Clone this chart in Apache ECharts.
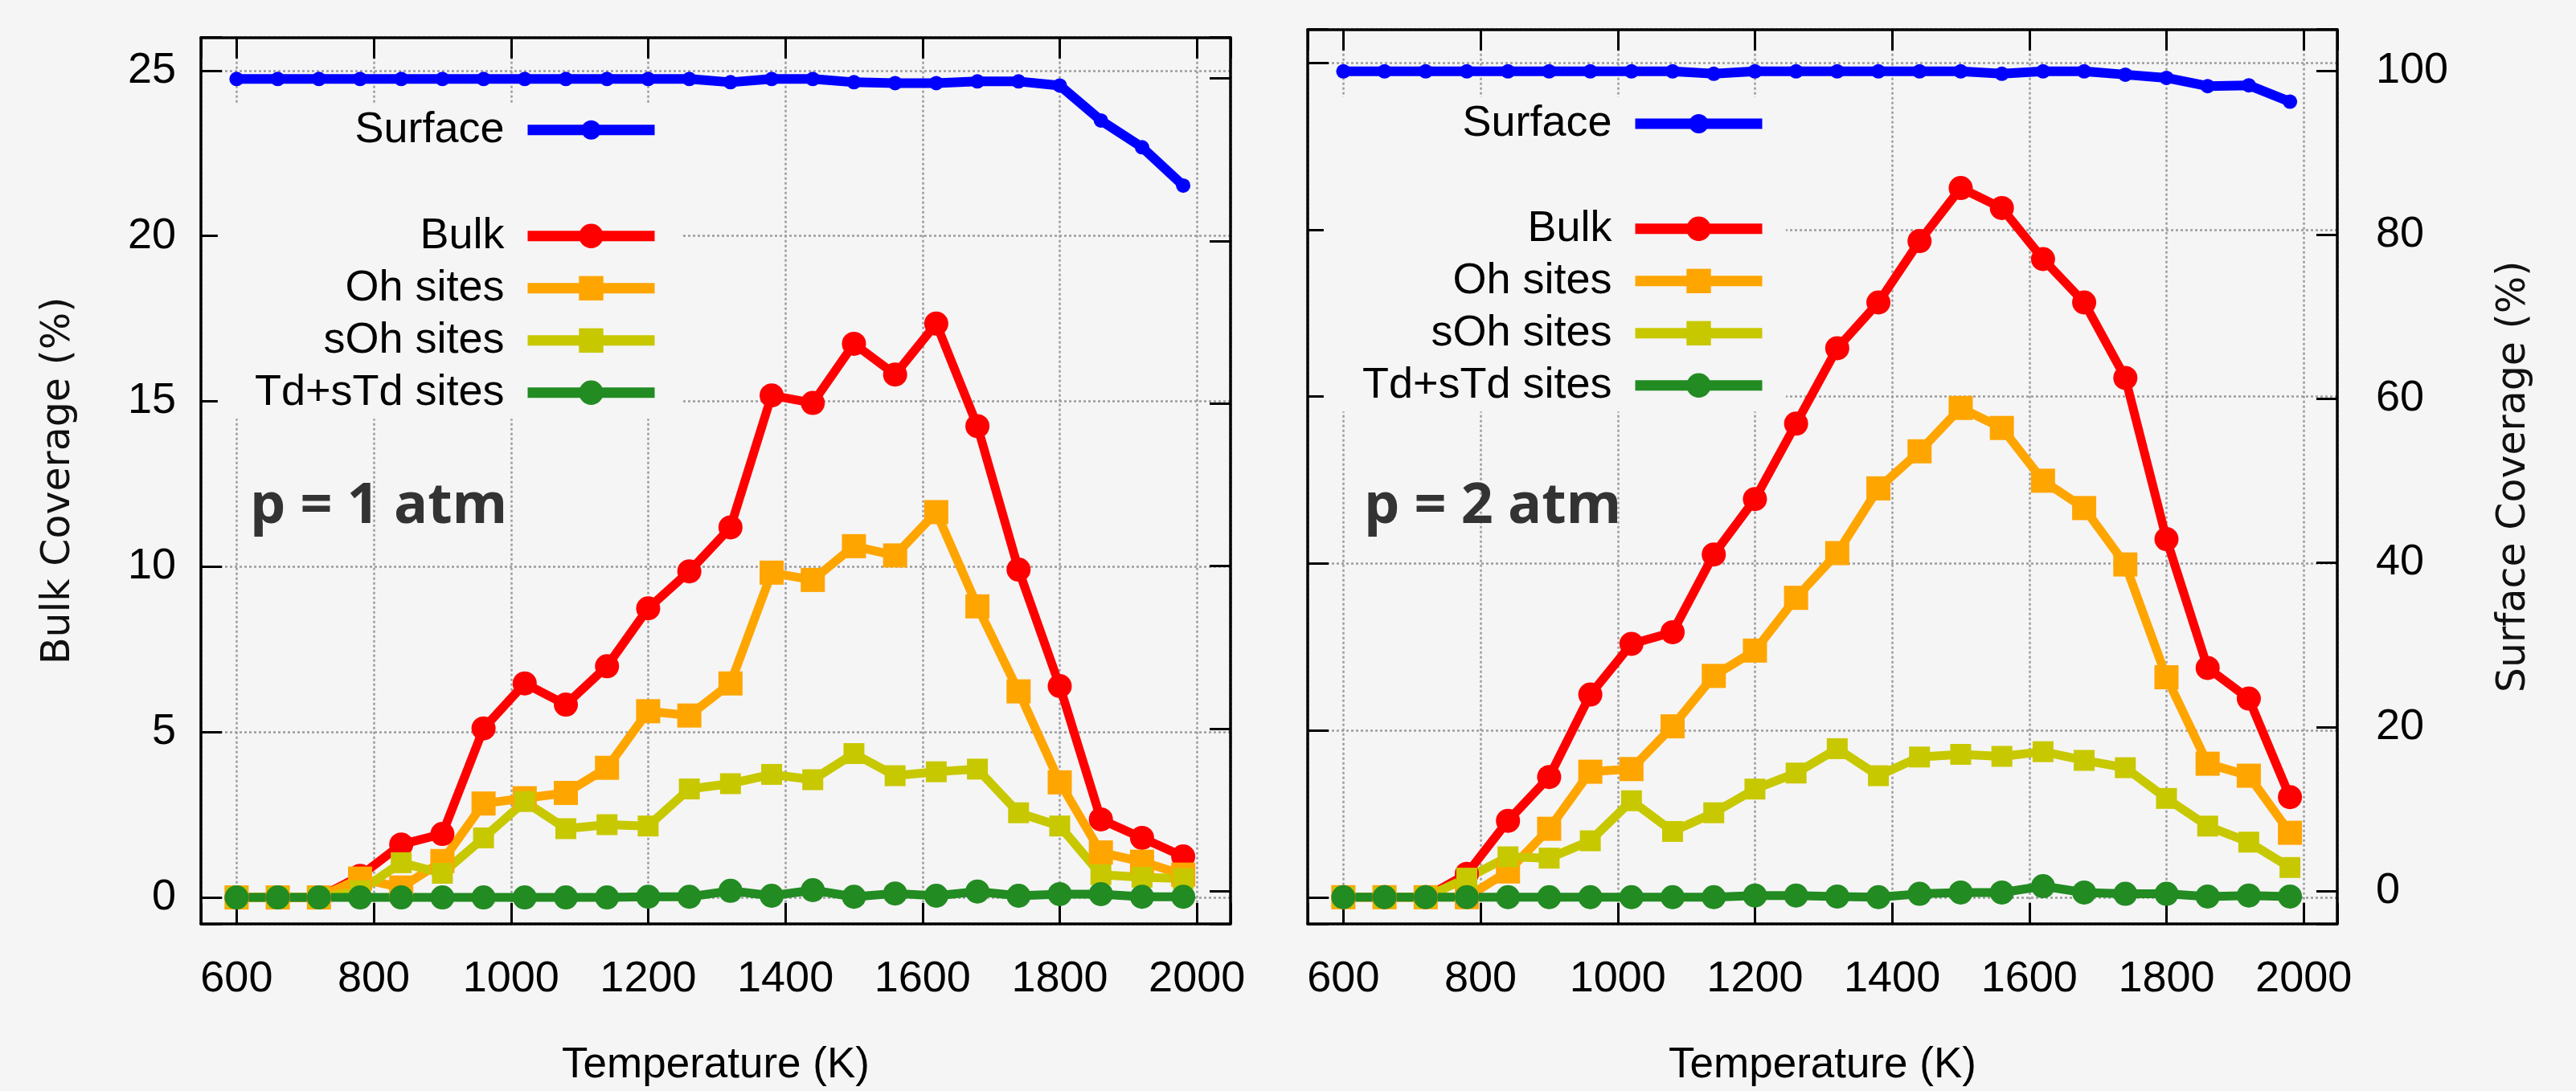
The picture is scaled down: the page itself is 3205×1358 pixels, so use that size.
<!DOCTYPE html>
<html>
<head>
<meta charset="utf-8">
<script src="https://cdn.jsdelivr.net/npm/echarts@6/dist/echarts.min.js"></script>
<style>
html,body{margin:0;padding:0;background:#f5f5f5;}
#chart{width:3205px;height:1358px;}
</style>
</head>
<body>
<div id="chart"></div>
<script>
// ---------- data ----------
const temperatureK = [600,660,720,780,840,900,960,1020,1080,1140,1200,1260,1320,1380,1440,1500,1560,1620,1680,1740,1800,1860,1920,1980];

// p = 1 atm
const surface1 = [99.9,99.9,99.9,99.9,99.9,99.9,99.9,99.9,99.9,99.9,99.9,99.9,99.5,99.9,99.9,99.5,99.4,99.4,99.6,99.6,99.1,94.8,91.5,86.8];
const bulk1    = [0,0,0,0.65,1.6,1.92,5.11,6.47,5.83,6.99,8.74,9.86,11.19,15.18,14.95,16.74,15.81,17.35,14.25,9.91,6.39,2.36,1.8,1.24];
const oh1      = [0,0,0,0.57,0.3,1.1,2.84,3.0,3.16,3.92,5.63,5.5,6.47,9.82,9.6,10.62,10.34,11.65,8.8,6.23,3.48,1.36,1.08,0.69];
const soh1     = [0,0,0,0.2,1.05,0.73,1.8,2.9,2.08,2.2,2.16,3.28,3.44,3.72,3.56,4.35,3.68,3.8,3.88,2.56,2.16,0.69,0.61,0.57];
const td1      = [0,0,0,0,0,0,0,0,0,0,0.02,0.02,0.2,0.05,0.22,0.02,0.12,0.05,0.18,0.05,0.1,0.1,0.02,0.02];

// p = 2 atm
const surface2 = [99.9,99.9,99.9,99.9,99.9,99.9,99.9,99.9,99.9,99.6,99.9,99.9,99.9,99.9,99.9,99.9,99.6,99.9,99.9,99.5,99.1,98.1,98.2,96.2];
const bulk2    = [0,0,0,0.7,2.29,3.6,6.07,7.59,7.94,10.27,11.93,14.19,16.45,17.82,19.66,21.25,20.65,19.12,17.82,15.56,10.73,6.87,5.95,3.0];
const oh2      = [0,0,0,0,0.77,2.05,3.76,3.84,5.12,6.63,7.39,8.97,10.31,12.25,13.36,14.66,14.06,12.48,11.66,9.97,6.59,4.0,3.64,1.93];
const soh2     = [0,0,0,0.57,1.21,1.17,1.69,2.89,1.97,2.53,3.24,3.72,4.45,3.64,4.2,4.28,4.22,4.36,4.1,3.88,2.96,2.13,1.65,0.89];
const td2      = [0,0,0,0,0,0,0,0,0,0,0.05,0.05,0.02,0,0.1,0.14,0.14,0.33,0.14,0.1,0.1,0.02,0.05,0.02];

// tick labels
const xTickValues = [600,800,1000,1200,1400,1600,1800,2000];
const bulkTickValues = [0,5,10,15,20,25];
const surfaceTickValues = [0,20,40,60,80,100];

const seriesNames = ['Surface','Bulk','Oh sites','sOh sites','Td+sTd sites'];
const panelLabels = ['p = 1 atm','p = 2 atm'];

// ---------- styling ----------
const FONT = "'Liberation Sans', Arial, sans-serif";
const TITLE_FONT = "'DejaVu Sans', Verdana, sans-serif";
const LABEL_FONT = "'Open Sans', Inter, sans-serif";
const BLACK = '#000';
const gridLine = {show:true, lineStyle:{color:'#9c9c9c', width:2.5, type:[3,3]}};
const axisLineStyle = {show:true, onZero:false, lineStyle:{color:BLACK, width:3.5}};
const tickStyle = {show:true, inside:true, length:26, lineStyle:{color:BLACK, width:3}};

function pairs(ys){ return temperatureK.map((t,i)=>[t, ys[i]]); }
function fmt(list){ return v => (list.indexOf(Math.round(v*1000)/1000) >= 0 ? String(v) : ''); }

const grids = [
  {left:250, top:46.7, width:1281, height:1118.3},
  {left:1627, top:36.7, width:1281, height:1120}
];

const xAxes = [], yAxes = [];
grids.forEach((g, gi) => {
  xAxes.push({
    type:'value', gridIndex:gi, position:'bottom', min:548, max:2049, minInterval:200, maxInterval:200,
    axisLine:axisLineStyle, axisTick:tickStyle,
    axisLabel:{show:true, margin:42, fontSize:54, color:BLACK, fontFamily:FONT, formatter:fmt(xTickValues)},
    splitLine:gridLine,
    name:'Temperature (K)', nameLocation:'middle', nameGap:150,
    nameTextStyle:{fontSize:53, color:BLACK, fontFamily:FONT}
  });
  xAxes.push({
    type:'value', gridIndex:gi, position:'top', min:548, max:2049, minInterval:200, maxInterval:200,
    axisLine:axisLineStyle, axisTick:tickStyle, axisLabel:{show:false}, splitLine:{show:false}
  });
  yAxes.push(Object.assign({
    type:'value', gridIndex:gi, position:'left', min:-0.8, max:26, minInterval:5, maxInterval:5,
    axisLine:axisLineStyle, axisTick:tickStyle,
    axisLabel:{show:gi===0, margin:31, fontSize:54, color:BLACK, fontFamily:FONT, formatter:fmt(bulkTickValues)},
    splitLine:gridLine
  }, gi===0 ? {name:'Bulk Coverage (%)', nameLocation:'middle', nameRotate:90, nameGap:152,
      nameTextStyle:{fontSize:49, color:'#111', fontFamily:TITLE_FONT}} : {}));
  yAxes.push(Object.assign({
    type:'value', gridIndex:gi, position:'right', min:-4, max:105, minInterval:20, maxInterval:20,
    axisLine:axisLineStyle, axisTick:tickStyle,
    axisLabel:{show:gi===1, margin:48, fontSize:54, color:BLACK, fontFamily:FONT, formatter:fmt(surfaceTickValues)},
    splitLine:{show:false}
  }, gi===1 ? {name:'Surface Coverage (%)', nameLocation:'middle', nameRotate:90, nameGap:196,
      nameTextStyle:{fontSize:49, color:'#111', fontFamily:TITLE_FONT}} : {}));
});

const styles = {
  'Surface':      {color:'#0000ff', symbol:'circle', size:18, width:12},
  'Bulk':         {color:'#ff0000', symbol:'circle', size:30, width:11},
  'Oh sites':     {color:'#ffa500', symbol:'rect',   size:30, width:11},
  'sOh sites':    {color:'#c8c800', symbol:'rect',   size:26, width:11},
  'Td+sTd sites': {color:'#228b22', symbol:'circle', size:30, width:11}
};
const panelData = [
  {'Surface':surface1,'Bulk':bulk1,'Oh sites':oh1,'sOh sites':soh1,'Td+sTd sites':td1},
  {'Surface':surface2,'Bulk':bulk2,'Oh sites':oh2,'sOh sites':soh2,'Td+sTd sites':td2}
];

const series = [];
panelData.forEach((pd, gi) => {
  seriesNames.forEach(name => {
    const s = styles[name];
    series.push({
      name, type:'line', xAxisIndex:gi*2, yAxisIndex: name==='Surface' ? gi*2+1 : gi*2,
      data:pairs(pd[name]), symbol:s.symbol, symbolSize:s.size, showAllSymbol:true,
      lineStyle:{color:s.color, width:s.width}, itemStyle:{color:s.color},
      emphasis:{disabled:true}, z:2
    });
  });
});

const legendText = {fontSize:54, fontFamily:FONT, color:BLACK, lineHeight:65, padding:[0,24,0,0]};
const legends = [
  {data:['Surface'], orient:'vertical', align:'right', right:2384, top:129.2, padding:0,
   itemWidth:158, itemHeight:30, itemGap:0, textStyle:legendText, lineStyle:{width:13}, selectedMode:false, z:6},
  {data:['Bulk','Oh sites','sOh sites','Td+sTd sites'], orient:'vertical', align:'right', right:2358, top:129.5,
   padding:[131.8,26,0,46], backgroundColor:'#f5f5f5', lineStyle:{width:13},
   itemWidth:158, itemHeight:38, itemGap:0, textStyle:legendText, selectedMode:false, z:5},
  {data:['Surface'], orient:'vertical', align:'right', right:1006, top:121.5, padding:0,
   itemWidth:158, itemHeight:30, itemGap:0, textStyle:legendText, lineStyle:{width:13}, selectedMode:false, z:6},
  {data:['Bulk','Oh sites','sOh sites','Td+sTd sites'], orient:'vertical', align:'right', right:983, top:121,
   padding:[131.3,23,0,48], backgroundColor:'#f5f5f5', lineStyle:{width:13},
   itemWidth:158, itemHeight:38, itemGap:0, textStyle:legendText, selectedMode:false, z:5}
];

const chart = echarts.init(document.getElementById('chart'), null, {renderer:'canvas'});
chart.setOption({
  backgroundColor:'#f5f5f5',
  animation:false,
  grid:grids,
  xAxis:xAxes,
  yAxis:yAxes,
  legend:legends,
  series,
  graphic:[
    {type:'text', x:311, y:631, z:10, style:{text:panelLabels[0], fontSize:70, fontWeight:'bold', fontFamily:LABEL_FONT, fill:'#333', verticalAlign:'middle', align:'left'}},
    {type:'text', x:1697, y:631, z:10, style:{text:panelLabels[1], fontSize:70, fontWeight:'bold', fontFamily:LABEL_FONT, fill:'#333', verticalAlign:'middle', align:'left'}}
  ]
});
</script>
</body>
</html>
